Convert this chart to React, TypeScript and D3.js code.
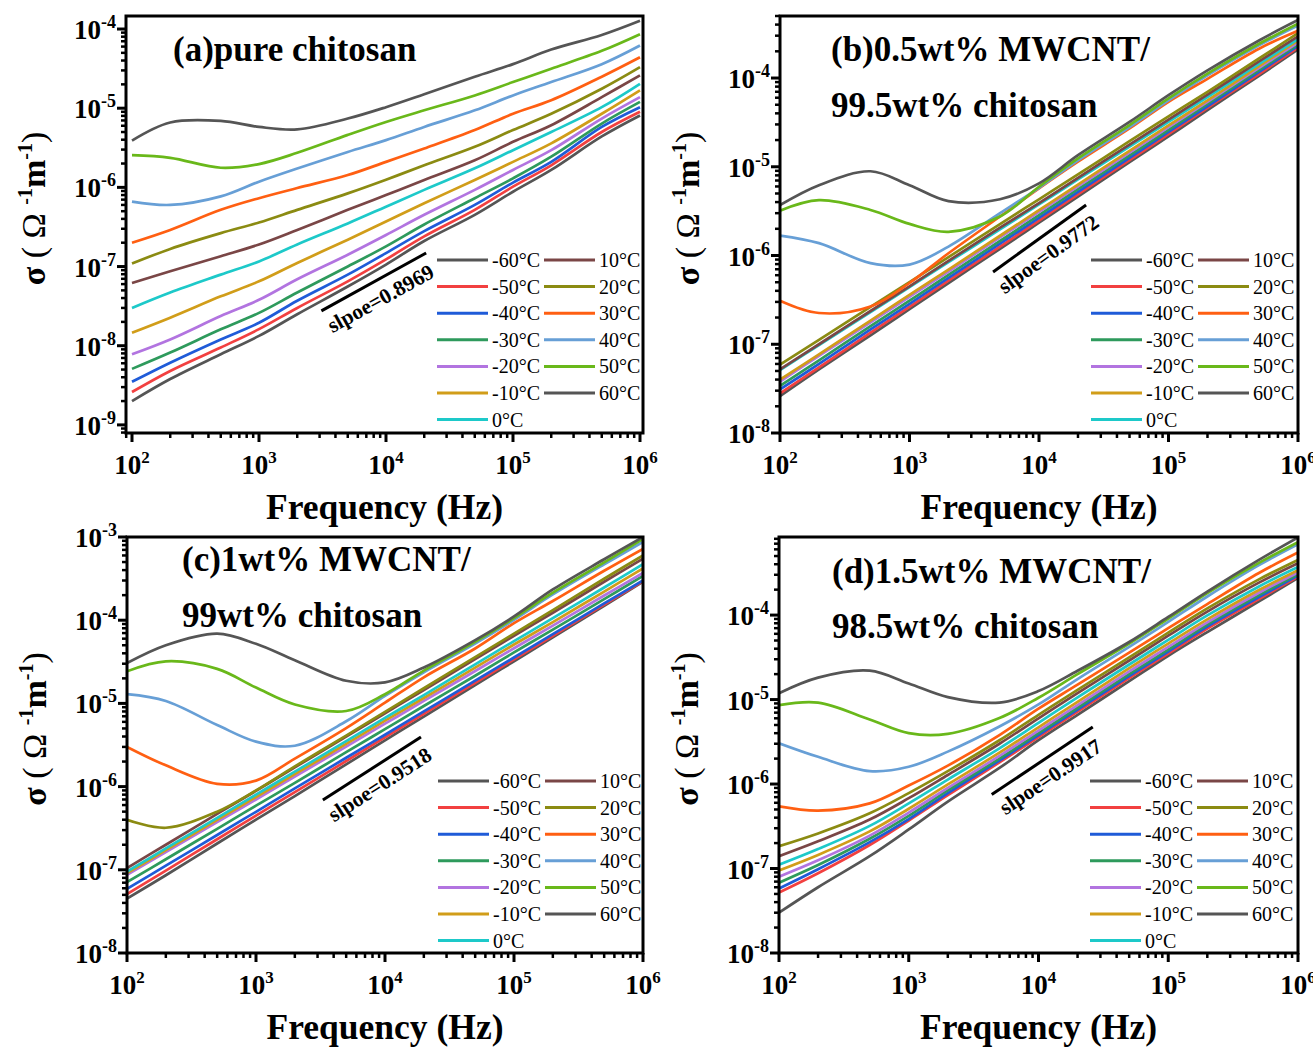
import React from "react";
import * as d3 from "d3";

// frequency grid (Hz) shared by every series
const freqs = [100, 200, 500, 1e3, 2e3, 5e3, 1e4, 2e4, 5e4, 1e5, 2e5, 5e5, 1e6];

const temps = ["-60°C", "-50°C", "-40°C", "-30°C", "-20°C", "-10°C", "0°C", "10°C", "20°C", "30°C", "40°C", "50°C", "60°C"];
const colors = ["#555555", "#f24040", "#1f5bd8", "#2e9a5c", "#b274e0", "#d19d19", "#1dc9c9", "#7a4646", "#8b8b12", "#ff5f12", "#679fd6", "#69b81a", "#555555"];

// conductivity (S/m) per temperature, rows in the order of temps
const sigmaA = [
  [2.0e-9, 3.8e-9, 7.8e-9, 1.33e-8, 2.5e-8, 5.6e-8, 1.06e-7, 2.1e-7, 4.5e-7, 8.8e-7, 1.66e-6, 4.4e-6, 8.1e-6],
  [2.6e-9, 4.8e-9, 9.5e-9, 1.62e-8, 3.0e-8, 6.5e-8, 1.23e-7, 2.4e-7, 5.2e-7, 1.02e-6, 1.9e-6, 5.0e-6, 9.0e-6],
  [3.5e-9, 6.1e-9, 1.2e-8, 1.95e-8, 3.7e-8, 7.9e-8, 1.48e-7, 2.8e-7, 6.0e-7, 1.15e-6, 2.1e-6, 5.8e-6, 1.03e-5],
  [5.1e-9, 8.2e-9, 1.61e-8, 2.6e-8, 4.7e-8, 1.0e-7, 1.8e-7, 3.4e-7, 7.3e-7, 1.3e-6, 2.44e-6, 6.4e-6, 1.2e-5],
  [7.8e-9, 1.2e-8, 2.37e-8, 3.8e-8, 6.9e-8, 1.41e-7, 2.5e-7, 4.5e-7, 9.3e-7, 1.66e-6, 2.95e-6, 7.4e-6, 1.38e-5],
  [1.46e-8, 2.26e-8, 4.2e-8, 6.5e-8, 1.11e-7, 2.18e-7, 3.7e-7, 6.3e-7, 1.24e-6, 2.1e-6, 3.6e-6, 8.5e-6, 1.68e-5],
  [3.0e-8, 4.7e-8, 7.9e-8, 1.16e-7, 1.9e-7, 3.5e-7, 5.7e-7, 9.3e-7, 1.74e-6, 2.95e-6, 5.0e-6, 1.03e-5, 2.03e-5],
  [6.2e-8, 8.7e-8, 1.35e-7, 1.9e-7, 2.9e-7, 5.2e-7, 8.0e-7, 1.24e-6, 2.2e-6, 3.76e-6, 6.1e-6, 1.38e-5, 2.6e-5],
  [1.09e-7, 1.67e-7, 2.64e-7, 3.6e-7, 5.2e-7, 8.4e-7, 1.25e-6, 1.9e-6, 3.25e-6, 5.3e-6, 8.5e-6, 1.76e-5, 3.3e-5],
  [2.0e-7, 2.9e-7, 5.2e-7, 7.3e-7, 9.8e-7, 1.43e-6, 2.1e-6, 3.1e-6, 5.3e-6, 8.5e-6, 1.26e-5, 2.5e-5, 4.4e-5],
  [6.6e-7, 6.0e-7, 7.7e-7, 1.18e-6, 1.73e-6, 2.8e-6, 3.95e-6, 5.8e-6, 9.4e-6, 1.45e-5, 2.14e-5, 3.6e-5, 6.2e-5],
  [2.55e-6, 2.36e-6, 1.77e-6, 1.97e-6, 2.73e-6, 4.6e-6, 6.7e-6, 9.4e-6, 1.45e-5, 2.14e-5, 3.15e-5, 5.3e-5, 8.6e-5],
  [3.9e-6, 6.6e-6, 6.9e-6, 5.8e-6, 5.4e-6, 7.4e-6, 1.03e-5, 1.5e-5, 2.5e-5, 3.6e-5, 5.5e-5, 8.4e-5, 1.27e-4],
];

const sigmaB = [
  [2.6e-8, 5.2e-8, 1.26e-7, 2.48e-7, 4.9e-7, 1.19e-6, 2.34e-6, 4.6e-6, 1.13e-5, 2.2e-5, 4.35e-5, 1.06e-4, 2.1e-4],
  [2.8e-8, 5.5e-8, 1.35e-7, 2.64e-7, 5.2e-7, 1.26e-6, 2.48e-6, 4.9e-6, 1.19e-5, 2.33e-5, 4.6e-5, 1.11e-4, 2.2e-4],
  [3.1e-8, 6.0e-8, 1.47e-7, 2.86e-7, 5.6e-7, 1.36e-6, 2.66e-6, 5.2e-6, 1.26e-5, 2.47e-5, 4.8e-5, 1.17e-4, 2.3e-4],
  [3.4e-8, 6.6e-8, 1.6e-7, 3.1e-7, 6.05e-7, 1.46e-6, 2.85e-6, 5.6e-6, 1.34e-5, 2.6e-5, 5.1e-5, 1.23e-4, 2.4e-4],
  [3.8e-8, 7.4e-8, 1.77e-7, 3.43e-7, 6.6e-7, 1.6e-6, 3.1e-6, 6.0e-6, 1.44e-5, 2.79e-5, 5.4e-5, 1.3e-4, 2.5e-4],
  [4.0e-8, 7.7e-8, 1.85e-7, 3.6e-7, 6.95e-7, 1.67e-6, 3.24e-6, 6.3e-6, 1.51e-5, 2.92e-5, 5.6e-5, 1.36e-4, 2.63e-4],
  [5.1e-8, 9.8e-8, 2.3e-7, 4.4e-7, 8.4e-7, 1.97e-6, 3.76e-6, 7.2e-6, 1.69e-5, 3.2e-5, 6.1e-5, 1.44e-4, 2.75e-4],
  [5.2e-8, 1.0e-7, 2.37e-7, 4.5e-7, 8.7e-7, 2.06e-6, 3.9e-6, 7.5e-6, 1.78e-5, 3.4e-5, 6.5e-5, 1.54e-4, 2.95e-4],
  [5.9e-8, 1.12e-7, 2.64e-7, 5.0e-7, 9.6e-7, 2.26e-6, 4.3e-6, 8.2e-6, 1.94e-5, 3.7e-5, 7.0e-5, 1.66e-4, 3.2e-4],
  [3.1e-7, 2.25e-7, 2.67e-7, 4.9e-7, 1.06e-6, 2.75e-6, 5.7e-6, 1.14e-5, 2.7e-5, 5.4e-5, 9.8e-5, 2.14e-4, 3.4e-4],
  [1.68e-6, 1.38e-6, 8.2e-7, 7.9e-7, 1.26e-6, 3.0e-6, 5.8e-6, 1.18e-5, 2.8e-5, 5.6e-5, 1.07e-4, 2.33e-4, 3.9e-4],
  [3.2e-6, 4.2e-6, 3.26e-6, 2.27e-6, 1.85e-6, 2.75e-6, 5.96e-6, 1.24e-5, 2.95e-5, 5.9e-5, 1.12e-4, 2.43e-4, 4.1e-4],
  [3.7e-6, 6.2e-6, 8.9e-6, 6.2e-6, 4.1e-6, 4.3e-6, 6.5e-6, 1.35e-5, 3.2e-5, 6.4e-5, 1.22e-4, 2.65e-4, 4.5e-4],
];

const sigmaC = [
  [4.5e-8, 8.6e-8, 2.07e-7, 4.0e-7, 7.7e-7, 1.85e-6, 3.6e-6, 6.95e-6, 1.66e-5, 3.2e-5, 6.2e-5, 1.49e-4, 2.9e-4],
  [5.1e-8, 9.8e-8, 2.33e-7, 4.47e-7, 8.6e-7, 2.03e-6, 3.9e-6, 7.5e-6, 1.77e-5, 3.39e-5, 6.5e-5, 1.54e-4, 2.95e-4],
  [5.9e-8, 1.12e-7, 2.62e-7, 4.98e-7, 9.5e-7, 2.22e-6, 4.2e-6, 8.0e-6, 1.88e-5, 3.56e-5, 6.8e-5, 1.59e-4, 3.0e-4],
  [7.1e-8, 1.34e-7, 3.11e-7, 5.9e-7, 1.11e-6, 2.59e-6, 4.9e-6, 9.3e-6, 2.15e-5, 4.1e-5, 7.7e-5, 1.79e-4, 3.4e-4],
  [8.7e-8, 1.63e-7, 3.75e-7, 7.0e-7, 1.32e-6, 3.03e-6, 5.7e-6, 1.07e-5, 2.45e-5, 4.6e-5, 8.6e-5, 1.98e-4, 3.7e-4],
  [9.1e-8, 1.72e-7, 3.98e-7, 7.5e-7, 1.41e-6, 3.27e-6, 6.2e-6, 1.16e-5, 2.69e-5, 5.1e-5, 9.5e-5, 2.21e-4, 4.2e-4],
  [9.5e-8, 1.81e-7, 4.2e-7, 8.0e-7, 1.51e-6, 3.52e-6, 6.7e-6, 1.26e-5, 2.95e-5, 5.6e-5, 1.06e-4, 2.47e-4, 4.7e-4],
  [1.05e-7, 2.0e-7, 4.7e-7, 8.9e-7, 1.7e-6, 4.0e-6, 7.6e-6, 1.45e-5, 3.4e-5, 6.5e-5, 1.23e-4, 2.9e-4, 5.5e-4],
  [4.0e-7, 3.2e-7, 5.0e-7, 9.0e-7, 1.75e-6, 4.1e-6, 7.9e-6, 1.52e-5, 3.6e-5, 6.9e-5, 1.32e-4, 3.15e-4, 6.0e-4],
  [3.0e-6, 1.8e-6, 1.08e-6, 1.18e-6, 2.17e-6, 5.05e-6, 1.02e-5, 2.06e-5, 4.57e-5, 9.2e-5, 1.7e-4, 3.93e-4, 7.2e-4],
  [1.29e-5, 1.07e-5, 5.5e-6, 3.47e-6, 3.1e-6, 6.1e-6, 1.23e-5, 2.37e-5, 5.25e-5, 1.01e-4, 2.04e-4, 4.7e-4, 8.7e-4],
  [2.43e-5, 3.2e-5, 2.6e-5, 1.55e-5, 9.7e-6, 8.1e-6, 1.29e-5, 2.48e-5, 5.5e-5, 1.06e-4, 2.14e-4, 4.96e-4, 9.5e-4],
  [3.05e-5, 5.0e-5, 6.9e-5, 5.2e-5, 3.3e-5, 1.87e-5, 1.79e-5, 2.7e-5, 5.75e-5, 1.11e-4, 2.34e-4, 5.4e-4, 1.0e-3],
];

const sigmaD = [
  [3.0e-8, 6.0e-8, 1.4e-7, 2.9e-7, 6.2e-7, 1.55e-6, 3.3e-6, 6.6e-6, 1.65e-5, 3.3e-5, 6.3e-5, 1.45e-4, 2.75e-4],
  [5.2e-8, 8.8e-8, 1.9e-7, 3.7e-7, 7.4e-7, 1.8e-6, 3.6e-6, 7.2e-6, 1.8e-5, 3.5e-5, 6.9e-5, 1.55e-4, 2.85e-4],
  [5.8e-8, 9.8e-8, 2.05e-7, 3.85e-7, 7.8e-7, 1.9e-6, 3.8e-6, 7.6e-6, 1.9e-5, 3.7e-5, 7.3e-5, 1.63e-4, 2.95e-4],
  [6.8e-8, 1.1e-7, 2.25e-7, 4.2e-7, 8.4e-7, 2.0e-6, 4.0e-6, 8.0e-6, 2.0e-5, 3.9e-5, 7.7e-5, 1.72e-4, 3.05e-4],
  [8.0e-8, 1.25e-7, 2.45e-7, 4.6e-7, 9.0e-7, 2.15e-6, 4.3e-6, 8.6e-6, 2.15e-5, 4.2e-5, 8.2e-5, 1.84e-4, 3.2e-4],
  [9.5e-8, 1.45e-7, 2.75e-7, 5.1e-7, 9.9e-7, 2.35e-6, 4.7e-6, 9.4e-6, 2.35e-5, 4.6e-5, 8.9e-5, 1.98e-4, 3.4e-4],
  [1.11e-7, 1.7e-7, 3.2e-7, 5.9e-7, 1.13e-6, 2.65e-6, 5.3e-6, 1.06e-5, 2.6e-5, 5.1e-5, 9.9e-5, 2.18e-4, 3.7e-4],
  [1.4e-7, 2.1e-7, 3.8e-7, 6.8e-7, 1.28e-6, 3.0e-6, 6.0e-6, 1.19e-5, 2.9e-5, 5.7e-5, 1.1e-4, 2.42e-4, 4.1e-4],
  [1.84e-7, 2.6e-7, 4.5e-7, 7.8e-7, 1.42e-6, 3.3e-6, 6.6e-6, 1.3e-5, 3.15e-5, 6.2e-5, 1.2e-4, 2.65e-4, 4.5e-4],
  [5.45e-7, 4.85e-7, 5.9e-7, 9.6e-7, 1.65e-6, 3.8e-6, 7.8e-6, 1.5e-5, 3.6e-5, 7.0e-5, 1.35e-4, 3.15e-4, 5.5e-4],
  [3.04e-6, 2.1e-6, 1.42e-6, 1.6e-6, 2.42e-6, 4.8e-6, 8.75e-6, 1.75e-5, 4.2e-5, 8.3e-5, 1.66e-4, 3.9e-4, 6.9e-4],
  [8.6e-6, 9.2e-6, 5.8e-6, 4.0e-6, 3.93e-6, 6.05e-6, 1.05e-5, 2.0e-5, 4.6e-5, 9.1e-5, 1.82e-4, 4.15e-4, 7.3e-4],
  [1.19e-5, 1.82e-5, 2.2e-5, 1.55e-5, 1.07e-5, 9.2e-6, 1.26e-5, 2.19e-5, 4.8e-5, 9.5e-5, 1.9e-4, 4.5e-4, 8.3e-4],
];

// fitted slope guides: [freq, sigma] at both ends
const slopeA = { label: "slpoe=0.8969", from: [3.1e3, 2.75e-8], to: [2.07e4, 1.48e-7] };
const slopeB = { label: "slpoe=0.9772", from: [4.42e3, 6.53e-7], to: [2.31e4, 3.71e-6] };
const slopeC = { label: "slpoe=0.9518", from: [3.3e3, 6.9e-7], to: [1.9e4, 3.94e-6] };
const slopeD = { label: "slpoe=0.9917", from: [4.36e3, 7.5e-7], to: [2.62e4, 4.73e-6] };

const panels = [
  { key: "a", left: 126, right: 643, top: 16, bottom: 433, xDomain: [89.7, 1.056e6], yDomain: [7.9e-10, 1.46e-4],
    title: ["(a)pure chitosan"], titleX: 173, titleY: [61], data: sigmaA, slope: slopeA },
  { key: "b", left: 780, right: 1298, top: 16, bottom: 433, xDomain: [100, 1e6], yDomain: [1e-8, 5.0e-4],
    title: ["(b)0.5wt% MWCNT/", "99.5wt% chitosan"], titleX: 831, titleY: [61, 117], data: sigmaB, slope: slopeB },
  { key: "c", left: 127, right: 643, top: 537, bottom: 953, xDomain: [100, 1e6], yDomain: [1e-8, 1e-3],
    title: ["(c)1wt% MWCNT/", "99wt% chitosan"], titleX: 182, titleY: [571, 627], data: sigmaC, slope: slopeC },
  { key: "d", left: 779, right: 1298, top: 537, bottom: 953, xDomain: [100, 1e6], yDomain: [1e-8, 8.4e-4],
    title: ["(d)1.5wt% MWCNT/", "98.5wt% chitosan"], titleX: 832, titleY: [583, 638], data: sigmaD, slope: slopeD },
];

const FONT = "'Liberation Serif', 'Times New Roman', serif";

function logTicks(domain: number[]) {
  const [lo, hi] = domain;
  const major: number[] = [];
  const minor: number[] = [];
  for (let k = Math.floor(Math.log10(lo)); k <= Math.ceil(Math.log10(hi)); k++) {
    const base = Math.pow(10, k);
    if (base >= lo * 0.999 && base <= hi * 1.001) major.push(k);
    for (let m = 2; m <= 9; m++) {
      const v = m * base;
      if (v >= lo && v <= hi) minor.push(v);
    }
  }
  return { major, minor };
}

function Panel({ p }: { p: any }) {
  const x = d3.scaleLog().domain(p.xDomain).range([p.left, p.right]);
  const y = d3.scaleLog().domain(p.yDomain).range([p.bottom, p.top]);
  const line = d3
    .line<number>()
    .x((_, i) => x(freqs[i]))
    .y((d) => y(d))
    .curve(d3.curveCatmullRom.alpha(0.5));

  const xt = logTicks(p.xDomain);
  const yt = logTicks(p.yDomain);
  const clipId = "clip-" + p.key;

  const sx0 = x(p.slope.from[0]);
  const sy0 = y(p.slope.from[1]);
  const sx1 = x(p.slope.to[0]);
  const sy1 = y(p.slope.to[1]);
  const ang = (Math.atan2(sy1 - sy0, sx1 - sx0) * 180) / Math.PI;
  const mx = (sx0 + sx1) / 2;
  const my = (sy0 + sy1) / 2;

  const legTop = p.top + 244;
  const rowH = 26.6;

  return (
    <g>
      <defs>
        <clipPath id={clipId}>
          <rect x={p.left} y={p.top} width={p.right - p.left} height={p.bottom - p.top} />
        </clipPath>
      </defs>

      <g clipPath={`url(#${clipId})`}>
        {p.data.map((row: number[], i: number) => (
          <path key={i} d={line(row) || ""} fill="none" stroke={colors[i]} strokeWidth={2.7} strokeLinejoin="round" />
        ))}
      </g>

      {/* slope guide */}
      <line x1={sx0} y1={sy0} x2={sx1} y2={sy1} stroke="#000" strokeWidth={3} />
      <text
        transform={`translate(${mx},${my}) rotate(${ang})`}
        x={-2}
        y={25}
        textAnchor="middle"
        fontFamily={FONT}
        fontWeight="bold"
        fontSize={21.5}
      >
        {p.slope.label}
      </text>

      {/* titles */}
      {p.title.map((t: string, i: number) => (
        <text key={i} x={p.titleX} y={p.titleY[i]} fontFamily={FONT} fontWeight="bold" fontSize={35}>
          {t}
        </text>
      ))}

      {/* legend */}
      {temps.map((t, i) => {
        const col = i < 7 ? 0 : 1;
        const row = i < 7 ? i : i - 7;
        const ly = legTop + row * rowH;
        const lx0 = p.left + (col === 0 ? 311 : 418);
        return (
          <g key={t}>
            <line x1={lx0} x2={lx0 + 51} y1={ly} y2={ly} stroke={colors[i]} strokeWidth={3} />
            <text x={lx0 + 55} y={ly + 7} fontFamily={FONT} fontSize={20}>
              {t}
            </text>
          </g>
        );
      })}

      {/* frame */}
      <rect x={p.left} y={p.top} width={p.right - p.left} height={p.bottom - p.top} fill="none" stroke="#000" strokeWidth={3} />

      {/* x ticks */}
      {xt.minor.map((v) => (
        <line key={"xm" + v} x1={x(v)} x2={x(v)} y1={p.bottom} y2={p.bottom + 5} stroke="#000" strokeWidth={2.5} />
      ))}
      {xt.major.map((k) => (
        <g key={"xM" + k}>
          <line x1={x(Math.pow(10, k))} x2={x(Math.pow(10, k))} y1={p.bottom} y2={p.bottom + 9} stroke="#000" strokeWidth={3} />
          <text x={x(Math.pow(10, k))} y={p.bottom + 41} textAnchor="middle" fontFamily={FONT} fontWeight="bold" fontSize={27}>
            10
            <tspan dy={-11} fontSize={17}>{k}</tspan>
          </text>
        </g>
      ))}

      {/* y ticks */}
      {yt.minor.map((v) => (
        <line key={"ym" + v} x1={p.left - 5} x2={p.left} y1={y(v)} y2={y(v)} stroke="#000" strokeWidth={2.5} />
      ))}
      {yt.major.map((k) => (
        <g key={"yM" + k}>
          <line x1={p.left - 9} x2={p.left} y1={y(Math.pow(10, k))} y2={y(Math.pow(10, k))} stroke="#000" strokeWidth={3} />
          <text x={p.left - 10} y={y(Math.pow(10, k)) + 10} textAnchor="end" fontFamily={FONT} fontWeight="bold" fontSize={27}>
            10
            <tspan dy={-11} fontSize={18}>{k}</tspan>
          </text>
        </g>
      ))}

      {/* axis titles */}
      <text x={(p.left + p.right) / 2} y={p.bottom + 86} textAnchor="middle" fontFamily={FONT} fontWeight="bold" fontSize={35.5}>
        Frequency (Hz)
      </text>
      <text
        transform={`translate(${p.left - 81},${(p.top + p.bottom) / 2 - 16}) rotate(-90)`}
        textAnchor="middle"
        fontFamily={FONT}
        fontSize={34}
      >
        <tspan fontWeight="bold">σ</tspan>
        <tspan> ( Ω </tspan>
        <tspan fontWeight="bold" fontSize={20} dy={-13}>-1</tspan>
        <tspan fontWeight="bold" dy={13}>m</tspan>
        <tspan fontWeight="bold" fontSize={20} dy={-13}>-1</tspan>
        <tspan dy={13}>)</tspan>
      </text>
    </g>
  );
}

export default function App() {
  return (
    <svg width={1313} height={1048} style={{ position: "absolute", left: 0, top: 0, background: "#fff" }}>
      {panels.map((p) => (
        <Panel key={p.key} p={p} />
      ))}
    </svg>
  );
}
